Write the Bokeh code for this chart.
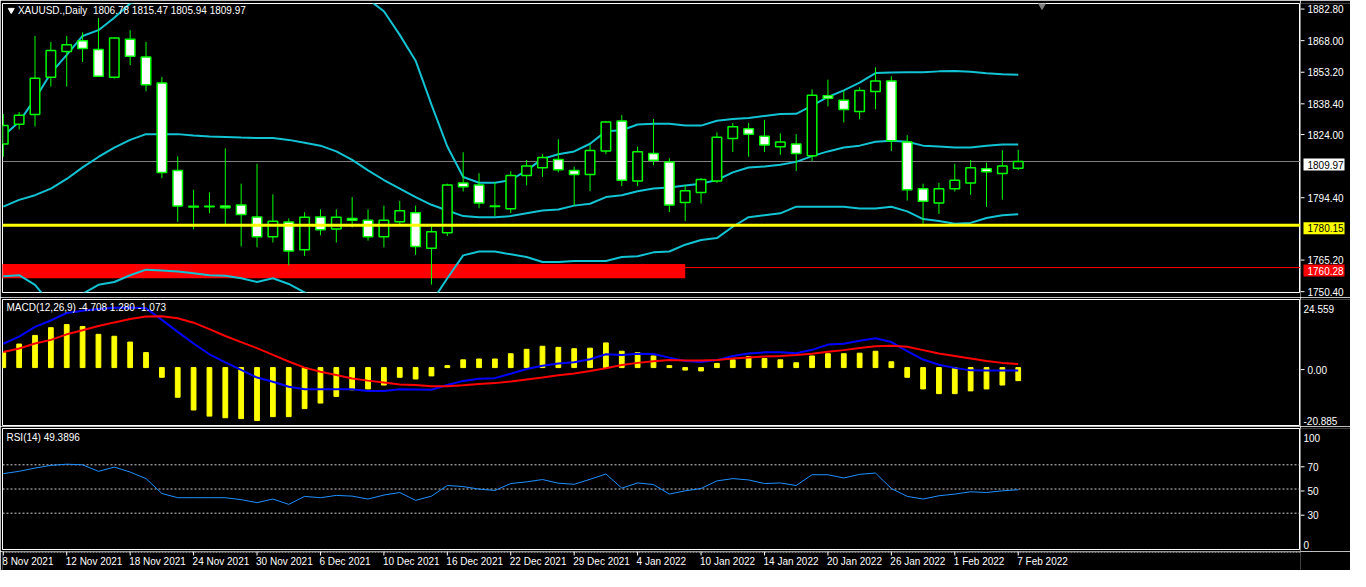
from bokeh.plotting import figure
from bokeh.layouts import column, row
from bokeh.models import Range1d, Span, Label, ColumnDataSource
from bokeh.core.properties import value
from bokeh.embed import file_html
from bokeh.resources import INLINE

# ---------------- data ----------------
bar_dates = [
    "8 Nov 2021", "9 Nov 2021", "10 Nov 2021", "11 Nov 2021", "12 Nov 2021", "15 Nov 2021",
    "16 Nov 2021", "17 Nov 2021", "18 Nov 2021", "19 Nov 2021", "22 Nov 2021", "23 Nov 2021",
    "24 Nov 2021", "25 Nov 2021", "26 Nov 2021", "29 Nov 2021", "30 Nov 2021", "1 Dec 2021",
    "2 Dec 2021", "3 Dec 2021", "6 Dec 2021", "7 Dec 2021", "8 Dec 2021", "9 Dec 2021",
    "10 Dec 2021", "13 Dec 2021", "14 Dec 2021", "15 Dec 2021", "16 Dec 2021", "17 Dec 2021",
    "20 Dec 2021", "21 Dec 2021", "22 Dec 2021", "23 Dec 2021", "27 Dec 2021", "28 Dec 2021",
    "29 Dec 2021", "30 Dec 2021", "31 Dec 2021", "3 Jan 2022", "4 Jan 2022", "5 Jan 2022",
    "6 Jan 2022", "7 Jan 2022", "10 Jan 2022", "11 Jan 2022", "12 Jan 2022", "13 Jan 2022",
    "14 Jan 2022", "17 Jan 2022", "18 Jan 2022", "19 Jan 2022", "20 Jan 2022", "21 Jan 2022",
    "24 Jan 2022", "25 Jan 2022", "26 Jan 2022", "27 Jan 2022", "28 Jan 2022", "31 Jan 2022",
    "1 Feb 2022", "2 Feb 2022", "3 Feb 2022", "4 Feb 2022", "7 Feb 2022",
]

open_prices = [
    1818.2, 1827.4, 1832.0, 1849.5, 1861.5, 1866.5, 1862.4, 1849.5, 1867.3, 1858.9,
    1846.8, 1805.7, 1788.7, 1788.8, 1789.1, 1789.6, 1784.0, 1774.7, 1781.6, 1768.6,
    1784.0, 1778.4, 1783.3, 1782.4, 1774.7, 1781.8, 1786.0, 1769.3, 1776.6, 1799.9,
    1799.0, 1788.9, 1787.8, 1803.4, 1807.0, 1810.9, 1805.7, 1803.9, 1814.9, 1828.9,
    1800.8, 1813.7, 1809.7, 1790.8, 1795.4, 1800.8, 1820.7, 1825.3, 1821.8, 1816.9,
    1818.2, 1812.7, 1840.8, 1838.7, 1833.4, 1842.8, 1847.7, 1819.1, 1797.2, 1790.5,
    1797.2, 1799.9, 1806.6, 1804.3, 1806.78,
]
high_prices = [
    1832.2, 1833.1, 1868.8, 1866.0, 1868.8, 1870.5, 1877.2, 1868.2, 1871.5, 1866.0,
    1849.6, 1812.4, 1796.7, 1795.5, 1816.1, 1799.6, 1808.9, 1794.6, 1783.3, 1786.2,
    1787.6, 1787.6, 1793.3, 1787.6, 1789.3, 1791.5, 1789.3, 1779.5, 1799.6, 1814.3,
    1804.5, 1800.3, 1805.4, 1810.7, 1813.4, 1820.4, 1807.5, 1817.9, 1829.0, 1831.7,
    1817.0, 1829.9, 1811.5, 1799.0, 1802.2, 1823.6, 1828.0, 1828.0, 1829.5, 1823.2,
    1822.8, 1843.8, 1848.3, 1843.2, 1844.7, 1854.1, 1849.9, 1822.3, 1799.6, 1800.0,
    1808.9, 1810.7, 1809.4, 1815.2, 1815.47,
]
low_prices = [
    1812.2, 1825.0, 1826.4, 1845.1, 1845.1, 1856.6, 1849.9, 1848.8, 1855.1, 1842.9,
    1802.2, 1781.7, 1778.2, 1785.8, 1780.7, 1770.2, 1769.8, 1772.0, 1761.3, 1765.7,
    1775.4, 1772.0, 1779.1, 1772.9, 1769.8, 1780.7, 1766.2, 1752.3, 1775.1, 1795.9,
    1788.1, 1784.4, 1785.8, 1798.8, 1802.8, 1804.9, 1789.3, 1796.1, 1813.4, 1798.5,
    1798.5, 1808.2, 1786.3, 1782.1, 1790.3, 1800.0, 1814.4, 1812.2, 1814.4, 1813.1,
    1805.5, 1810.2, 1835.8, 1828.3, 1829.8, 1834.5, 1814.9, 1791.7, 1780.9, 1785.4,
    1795.9, 1794.3, 1788.7, 1792.1, 1805.94,
]
close_prices = [
    1826.8, 1831.6, 1849.0, 1862.0, 1864.7, 1862.9, 1849.9, 1867.8, 1859.3, 1845.9,
    1804.8, 1789.1, 1789.0, 1789.0, 1788.3, 1785.1, 1774.7, 1782.0, 1768.1, 1783.8,
    1778.0, 1783.8, 1782.4, 1774.7, 1782.4, 1786.9, 1770.2, 1777.1, 1799.0, 1798.1,
    1790.5, 1789.1, 1803.4, 1807.9, 1811.8, 1806.1, 1803.9, 1815.1, 1828.5, 1801.2,
    1814.6, 1810.6, 1789.6, 1796.3, 1801.5, 1821.3, 1826.2, 1822.7, 1817.7, 1819.1,
    1813.7, 1841.0, 1839.6, 1834.3, 1843.2, 1847.7, 1819.7, 1796.7, 1791.4, 1797.2,
    1801.2, 1807.0, 1805.2, 1807.9, 1809.97,
]

bb_upper = [
    1821.9, 1828.6, 1839.3, 1851.4, 1859.9, 1868.8, 1871.5, 1877.3, 1884.0, 1886.3,
    1886.7, 1887.2, 1886.6, 1886.7, 1886.5, 1887.1, 1888.5, 1886.7, 1887.6, 1889.0,
    1889.0, 1889.0, 1888.0, 1886.0, 1880.4, 1869.3, 1857.2, 1836.6, 1817.0, 1802.7,
    1800.0, 1800.0, 1801.3, 1805.8, 1811.2, 1813.4, 1814.7, 1818.3, 1824.1, 1824.6,
    1827.3, 1827.7, 1827.7, 1826.8, 1826.8, 1829.1, 1829.9, 1830.4, 1831.3, 1832.2,
    1832.3, 1836.2, 1840.2, 1843.3, 1846.9, 1851.4, 1851.7, 1851.8, 1851.8, 1852.2,
    1852.4, 1852.0, 1851.3, 1850.9, 1850.6,
]
bb_middle = [
    1788.8, 1792.0, 1794.2, 1797.3, 1801.8, 1807.2, 1812.1, 1816.5, 1820.1, 1822.8,
    1822.8, 1822.8, 1822.1, 1821.7, 1821.45, 1821.2, 1821.0, 1821.0, 1820.1, 1818.8,
    1817.4, 1814.7, 1810.7, 1805.8, 1801.3, 1797.3, 1793.3, 1789.7, 1787.0, 1784.4,
    1783.9, 1783.9, 1784.4, 1785.7, 1787.0, 1787.5, 1789.3, 1790.2, 1793.3, 1794.2,
    1796.0, 1797.3, 1797.8, 1798.7, 1799.6, 1801.3, 1804.9, 1807.2, 1807.6, 1808.5,
    1809.8, 1812.5, 1814.7, 1816.5, 1817.4, 1819.2, 1819.7, 1819.2, 1817.4, 1817.0,
    1816.5, 1816.5, 1817.4, 1817.9, 1817.9,
]
bb_lower = [
    1756.2, 1756.7, 1752.2, 1743.2, 1744.5, 1748.0, 1752.2, 1753.5, 1756.7, 1759.3,
    1758.9, 1758.4, 1757.6, 1756.7, 1756.4, 1755.3, 1753.5, 1755.3, 1752.6, 1748.6,
    1745.8, 1740.4, 1733.4, 1725.6, 1722.2, 1725.3, 1729.4, 1744.0, 1755.3, 1766.0,
    1767.8, 1767.8, 1766.5, 1765.2, 1762.9, 1762.9, 1763.4, 1763.4, 1763.4, 1765.2,
    1765.6, 1767.4, 1767.8, 1771.0, 1773.2, 1774.1, 1779.4, 1783.9, 1784.8, 1785.7,
    1788.8, 1788.8, 1788.8, 1788.8, 1787.9, 1787.9, 1788.8, 1786.6, 1783.0, 1782.1,
    1780.8, 1781.2, 1783.5, 1784.8, 1785.3,
]

macd_hist = [
    5.4, 8.5, 11.6, 14.4, 15.5, 14.8, 12.0, 11.3, 9.2, 5.4,
    -3.5, -10.7, -15.3, -17.5, -18.1, -18.4, -19.1, -17.7, -17.7, -14.8,
    -12.8, -10.4, -8.0, -7.7, -6.3, -3.5, -4.1, -3.0, 0.7, 2.8,
    3.1, 3.1, 5.0, 6.6, 7.7, 7.3, 6.8, 7.0, 8.9, 5.9,
    5.4, 4.2, 0.7, -0.9, -1.2, 1.5, 2.8, 4.0, 3.3, 2.8,
    1.75, 4.2, 5.0, 5.0, 5.2, 5.9, 2.1, -3.5, -7.7, -9.4,
    -9.4, -8.4, -7.7, -6.3, -4.708,
]
macd_main = [
    8.6, 11.2, 14.7, 17.0, 19.7, 20.5, 21.1, 21.6, 21.7, 21.4,
    17.2, 12.9, 8.7, 4.8, 1.9, -0.8, -3.6, -5.1, -6.9, -7.8,
    -7.8, -7.8, -7.8, -8.4, -8.4, -7.8, -7.9, -8.0, -6.3, -4.8,
    -4.0, -3.8, -2.2, -0.5, 0.7, 1.5, 1.9, 3.0, 4.8, 4.5,
    5.0, 4.9, 3.6, 2.4, 2.0, 2.7, 4.2, 5.1, 5.5, 5.5,
    5.2, 6.4, 8.3, 8.6, 9.7, 10.6, 9.2, 5.9, 2.9, 1.0,
    -0.1, -1.0, -1.05, -1.07, -1.073,
]
macd_signal = [
    5.6, 6.9, 8.7, 10.0, 12.0, 13.5, 15.0, 16.3, 17.5, 18.4,
    18.5, 17.8, 16.2, 13.9, 11.4, 9.2, 7.0, 4.6, 2.2, 0.0,
    -1.5, -2.7, -3.9, -4.7, -5.4, -6.1, -6.3, -6.7, -6.7, -6.4,
    -5.9, -5.6, -5.0, -4.3, -3.6, -2.8, -2.1, -1.2, -0.2, 0.9,
    1.7, 2.3, 2.7, 2.6, 2.6, 2.7, 3.3, 3.6, 4.0, 4.2,
    4.5, 5.0, 5.7, 6.3, 7.1, 7.7, 7.9, 7.5, 6.3, 5.1,
    4.2, 3.3, 2.4, 1.7, 1.280,
]
rsi_values = [
    62.7, 64.6, 67.3, 69.5, 70.5, 70.0, 64.6, 68.1, 64.0, 58.6,
    46.3, 42.8, 42.8, 42.8, 42.8, 41.2, 38.7, 41.7, 37.3, 43.9,
    42.8, 44.7, 44.1, 41.7, 45.0, 47.1, 40.6, 44.1, 52.9, 52.0,
    49.9, 48.8, 54.5, 55.9, 57.8, 54.8, 53.9, 58.0, 62.4, 50.7,
    55.0, 53.7, 45.8, 48.5, 50.4, 56.7, 58.6, 57.5, 54.5, 55.0,
    52.9, 61.8, 61.8, 59.1, 62.1, 63.2, 50.4, 43.9, 41.7, 44.4,
    45.8, 47.7, 47.1, 48.5, 49.3896,
]

price_range = (1748.6, 1884.0)
price_ticks = [1882.80, 1868.00, 1853.20, 1838.40, 1824.00, 1794.40, 1765.20, 1750.40]
bid_price = 1809.97
yellow_level = 1780.15
red_level = 1760.28
zone_bottom, zone_top, zone_end_bar = 1755.3, 1762.0, 43
macd_range = (-20.885, 24.559)
rsi_levels = [70, 50, 30]
symbol_title = "XAUUSD.,Daily"

# ---------------- layout constants ----------------
FW = 1298          # plot frame width
AW = 50            # price-axis strip width
FONT = "Liberation Sans"
FS = "10px"
GREEN = "#00ff00"
BB_COLOR = "#12c3d3"

idx = list(range(len(close_prices)))
xr = Range1d(-0.05, 81.8)


def panel(frame_h, y_rng, top, bottom, outline="white"):
    p = figure(x_range=xr, y_range=Range1d(*y_rng), output_backend="svg", toolbar_location=None,
               frame_width=FW, frame_height=frame_h, min_border_left=2, min_border_right=0,
               min_border_top=top, min_border_bottom=bottom,
               background_fill_color="black", border_fill_color="black",
               outline_line_color=outline, x_axis_location=None, y_axis_location=None)
    p.xgrid.visible = False
    p.ygrid.visible = False
    return p


def axis_strip(frame_h, y_rng, top, bottom):
    """Right price-scale strip that shares the vertical scale of its panel."""
    pxu = frame_h / (y_rng[1] - y_rng[0])
    s = figure(x_range=Range1d(0, AW),
               y_range=Range1d(y_rng[0] - bottom / pxu, y_rng[1] + top / pxu),
               output_backend="svg", toolbar_location=None,
               frame_width=AW, frame_height=frame_h + top + bottom,
               min_border_left=0, min_border_right=0, min_border_top=0, min_border_bottom=0,
               background_fill_color="black", border_fill_color="black",
               outline_line_color=None, x_axis_location=None, y_axis_location=None)
    s.xgrid.visible = False
    s.ygrid.visible = False
    return s, pxu


def add_ticks(s, positions, labels):
    n = len(positions)
    s.segment(x0=[0] * n, y0=positions, x1=[4] * n, y1=positions, line_color="white", line_width=1)
    s.text(x=[7] * n, y=positions, text=labels, text_color="white", text_font=value(FONT),
           text_font_size=FS, text_baseline="middle", text_align="left")


# ---------------- main price panel ----------------
MAIN_H, MAIN_T, MAIN_B = 289, 3, 5
p1 = panel(MAIN_H, price_range, MAIN_T, MAIN_B)

p1.add_layout(Span(location=bid_price, dimension="width", line_color="#808080",
                   line_width=1, level="underlay"))
p1.quad(left=[xr.start - 2], right=[zone_end_bar], bottom=[zone_bottom], top=[zone_top],
        fill_color="#ff0000", line_color=None, level="underlay")
p1.add_layout(Span(location=red_level, dimension="width", line_color="#ff0000",
                   line_width=1, level="underlay"))

p1.line(idx, bb_upper, color=BB_COLOR, line_width=2)
p1.line(idx, bb_middle, color=BB_COLOR, line_width=2)
p1.line(idx, bb_lower, color=BB_COLOR, line_width=2)

bull = [c >= o for o, c in zip(open_prices, close_prices)]
csrc = ColumnDataSource(dict(
    x=idx, h=high_prices, l=low_prices,
    top=[max(o, c) for o, c in zip(open_prices, close_prices)],
    bottom=[min(o, c) for o, c in zip(open_prices, close_prices)],
    fill=["black" if b else "white" for b in bull],
))
p1.segment(x0="x", y0="h", x1="x", y1="l", line_color=GREEN, line_width=1, source=csrc)
p1.vbar(x="x", top="top", bottom="bottom", width=0.6, fill_color="fill",
        line_color=GREEN, line_width=1.5, source=csrc)

p1.add_layout(Span(location=yellow_level, dimension="width", line_color="#ffff00", line_width=3))

p1.scatter([65.5], [price_range[1] - 0.4], marker="inverted_triangle", size=9, color="#808080")
p1.scatter([0.5], [1880.9], marker="inverted_triangle", size=6, color="white")
header = "%s\u00a0\u00a0%.2f %.2f %.2f %.2f" % (symbol_title, open_prices[-1], high_prices[-1],
                                             low_prices[-1], close_prices[-1])
p1.add_layout(Label(x=0.92, y=1880.9, text=header, text_color="white", text_font=FONT,
                    text_font_size=FS, text_baseline="middle", text_align="left"))

s1, pxu1 = axis_strip(MAIN_H, price_range, MAIN_T, MAIN_B)
add_ticks(s1, price_ticks, ["%.2f" % t for t in price_ticks])
box_levels = [bid_price, yellow_level, red_level]
box_fill = ["white", "#ffff00", "#ff0000"]
box_text = ["black", "black", "white"]
half = 6.0 / pxu1
s1.quad(left=[3] * 3, right=[44] * 3, bottom=[l - half for l in box_levels],
        top=[l + half for l in box_levels], fill_color=box_fill, line_color=None)
s1.text(x=[7] * 3, y=box_levels, text=["%.2f" % l for l in box_levels], text_color=box_text,
        text_font=value(FONT), text_font_size=FS, text_baseline="middle", text_align="left")

# ---------------- MACD panel ----------------
MACD_H, MACD_T, MACD_B = 126, 2, 1
p2 = panel(MACD_H, macd_range, MACD_T, MACD_B)
p2.vbar(x=idx, top=macd_hist, bottom=0, width=0.3, color="#ffff00")
p2.line(idx, macd_main, color="#0000ff", line_width=2)
p2.line(idx, macd_signal, color="#ff0000", line_width=2)
s2, pxu2 = axis_strip(MACD_H, macd_range, MACD_T, MACD_B)
p2.add_layout(Label(x=0.2, y=macd_range[1] - 8 / pxu2,
                    text="MACD(12,26,9) %.3f %.3f %.3f" % (macd_hist[-1], macd_signal[-1], macd_main[-1]),
                    text_color="white", text_font=FONT, text_font_size=FS,
                    text_baseline="middle", text_align="left"))
add_ticks(s2, [0.0], ["0.00"])
s2.text(x=[3, 3], y=[macd_range[1] - 7 / pxu2, macd_range[0] + 7 / pxu2],
        text=["%.3f" % macd_range[1], "%.3f" % macd_range[0]], text_color="white",
        text_font=value(FONT), text_font_size=FS, text_baseline="middle", text_align="left")

# ---------------- RSI panel ----------------
RSI_H, RSI_T, RSI_B = 121, 2, 2
p3 = panel(RSI_H, (0, 100), RSI_T, RSI_B)
for l in rsi_levels:
    p3.add_layout(Span(location=l, dimension="width", line_color="#d0d0d0",
                       line_width=1, line_dash="2 2", level="underlay"))
p3.line(idx, rsi_values, color="#1e90ff", line_width=1)
s3, pxu3 = axis_strip(RSI_H, (0, 100), RSI_T, RSI_B)
p3.add_layout(Label(x=0.2, y=100 - 9 / pxu3, text="RSI(14) %.4f" % rsi_values[-1],
                    text_color="white", text_font=FONT, text_font_size=FS,
                    text_baseline="middle", text_align="left"))
add_ticks(s3, rsi_levels, [str(l) for l in rsi_levels])
s3.text(x=[3, 3], y=[100 - 7 / pxu3, 7 / pxu3], text=["100", "0"], text_color="white",
        text_font=value(FONT), text_font_size=FS, text_baseline="middle", text_align="left")

# ---------------- time axis strip ----------------
TH = 19
p4 = figure(x_range=xr, y_range=Range1d(0, TH), output_backend="svg", toolbar_location=None,
            frame_width=FW, frame_height=TH, min_border_left=2, min_border_right=AW,
            min_border_top=0, min_border_bottom=0, background_fill_color="black",
            border_fill_color="black", outline_line_color=None,
            x_axis_location=None, y_axis_location=None)
p4.xgrid.visible = False
p4.ygrid.visible = False
tick_idx = idx[::4]
tick_labels = bar_dates[::4]
p4.add_layout(Span(location=TH - 0.5, dimension="width", line_color="white",
                   line_width=1, line_dash="2 1"))
p4.segment(x0=tick_idx, y0=[TH] * len(tick_idx), x1=tick_idx,
           y1=[TH - 4] * len(tick_idx), line_color="white", line_width=1)
p4.text(x=tick_idx, y=[TH - 10] * len(tick_idx), text=tick_labels,
        text_color="white", text_font=value(FONT), text_font_size=FS,
        text_baseline="middle", text_align="left", x_offset=-1)

layout = column(row(p1, s1, spacing=0), row(p2, s2, spacing=0), row(p3, s3, spacing=0), p4,
                spacing=0)
open("out.html", "w").write(file_html(layout, INLINE))
